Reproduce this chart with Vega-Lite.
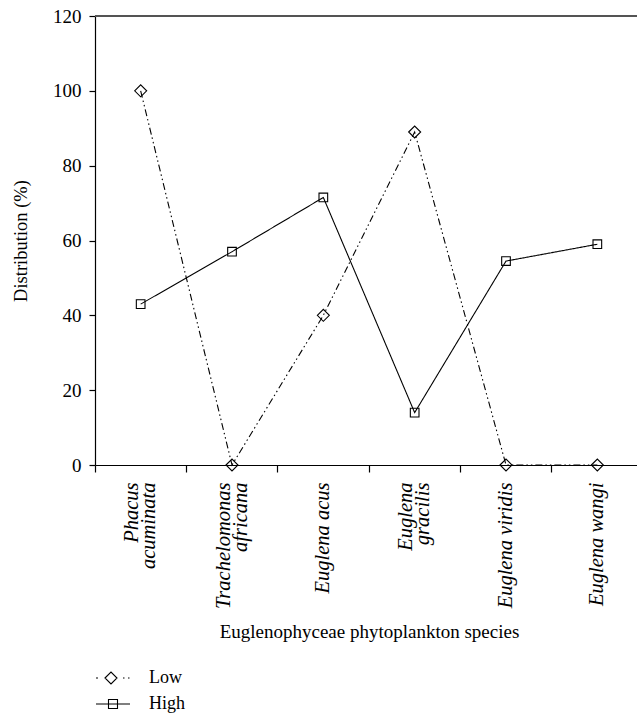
{
  "$schema": "https://vega.github.io/schema/vega-lite/v6.json",
  "autosize": {"type": "none"},
  "padding": {"left": 95, "top": 16, "right": 0, "bottom": 249},
  "width": 542,
  "height": 449,
  "background": "white",
  "config": {
    "view": {"stroke": null},
    "font": "Liberation Serif",
    "axis": {"domainColor": "black", "tickColor": "black", "labelColor": "black", "titleColor": "black", "grid": false, "labelFont": "Liberation Serif", "titleFont": "Liberation Serif", "titleFontWeight": "normal", "domainWidth": 1.2, "tickWidth": 1.2},
    "legend": {"labelFont": "Liberation Serif", "labelColor": "black"}
  },
  "data": {
    "values": [
      {"species": "Phacus acuminata", "series": "Low", "value": 100},
      {"species": "Trachelomonas africana", "series": "Low", "value": 0},
      {"species": "Euglena acus", "series": "Low", "value": 40},
      {"species": "Euglena gracilis", "series": "Low", "value": 89},
      {"species": "Euglena viridis", "series": "Low", "value": 0},
      {"species": "Euglena wangi", "series": "Low", "value": 0},
      {"species": "Phacus acuminata", "series": "High", "value": 43},
      {"species": "Trachelomonas africana", "series": "High", "value": 57},
      {"species": "Euglena acus", "series": "High", "value": 71.5},
      {"species": "Euglena gracilis", "series": "High", "value": 14},
      {"species": "Euglena viridis", "series": "High", "value": 54.5},
      {"species": "Euglena wangi", "series": "High", "value": 59}
    ]
  },
  "encoding": {
    "x": {
      "field": "species",
      "type": "nominal",
      "sort": ["Phacus acuminata", "Trachelomonas africana", "Euglena acus", "Euglena gracilis", "Euglena viridis", "Euglena wangi"],
      "scale": {"type": "band", "paddingInner": 0, "paddingOuter": 0, "range": [0, 548]},
      "axis": {
        "title": "Euglenophyceae phytoplankton species",
        "titleFontSize": 19,
        "titlePadding": 14,
        "labelAngle": -90,
        "labelFontSize": 20.5,
        "labelFontStyle": "italic",
        "labelPadding": 10,
        "labelLineHeight": 17,
        "labelOffset": {"expr": "indexof(['Phacus acuminata','Trachelomonas africana','Euglena gracilis'], datum.value) >= 0 ? -8.5 : 0"},
        "tickSize": 7,
        "bandPosition": 0,
        "labelExpr": "indexof(['Phacus acuminata','Trachelomonas africana','Euglena gracilis'], datum.label) >= 0 ? split(datum.label, ' ') : datum.label"
      }
    },
    "y": {
      "field": "value",
      "type": "quantitative",
      "scale": {"domain": [0, 120], "nice": false},
      "axis": {
        "title": "Distribution (%)",
        "titleFontSize": 18.5,
        "titlePadding": 22,
        "values": [0, 20, 40, 60, 80, 100, 120],
        "labelFontSize": 19,
        "labelPadding": 8,
        "tickSize": 6
      }
    }
  },
  "layer": [
    {
      "mark": {"type": "rule", "color": "#555555", "strokeWidth": 1.5},
      "encoding": {"x": null, "y": {"datum": 120}}
    },
    {
      "mark": {"type": "line", "color": "black", "strokeWidth": 1.1},
      "encoding": {
        "detail": {"field": "series"},
        "strokeDash": {
          "field": "series",
          "type": "nominal",
          "scale": {"domain": ["Low", "High"], "range": [[7, 3, 1.5, 3, 1.5, 3], [1, 0]]},
          "legend": null
        }
      }
    },
    {
      "transform": [{"filter": "datum.series === 'Low'"}],
      "mark": {"type": "point", "shape": "diamond", "filled": false, "strokeWidth": 1.1, "size": 144, "opacity": 1},
      "encoding": {
        "color": {
          "field": "series",
          "type": "nominal",
          "scale": {"domain": ["Low"], "range": ["black"]},
          "legend": {
            "title": null,
            "orient": "none",
            "legendX": 7,
            "legendY": 651,
            "padding": 0,
            "offset": 0,
            "labelFontSize": 18,
            "labelOffset": 25,
            "symbolSize": 400,
            "symbolOpacity": 1,
            "symbolStrokeWidth": 1.1,
            "symbolStrokeColor": "black",
            "symbolFillColor": "transparent",
            "symbolType": "M-1.7,0L-1.5,0M-0.8,0L-0.2,-0.6L0.4,0L-0.2,0.6ZM1.0,0L1.15,0M1.5,0L1.65,0"
          }
        }
      }
    },
    {
      "transform": [{"filter": "datum.series === 'High'"}],
      "mark": {"type": "point", "shape": "square", "filled": false, "color": "black", "strokeWidth": 1.1, "size": 75},
      "encoding": {
        "opacity": {
          "field": "series",
          "type": "nominal",
          "scale": {"domain": ["High"], "range": [1]},
          "legend": {
            "title": null,
            "orient": "none",
            "legendX": 7,
            "legendY": 677,
            "padding": 0,
            "offset": 0,
            "labelFontSize": 18,
            "labelOffset": 25,
            "symbolSize": 400,
            "symbolStrokeWidth": 1.1,
            "symbolStrokeColor": "black",
            "symbolFillColor": "transparent",
            "symbolType": "M-1.7,0L1.7,0M-0.45,-0.45L0.45,-0.45L0.45,0.45L-0.45,0.45Z"
          }
        }
      }
    }
  ]
}
